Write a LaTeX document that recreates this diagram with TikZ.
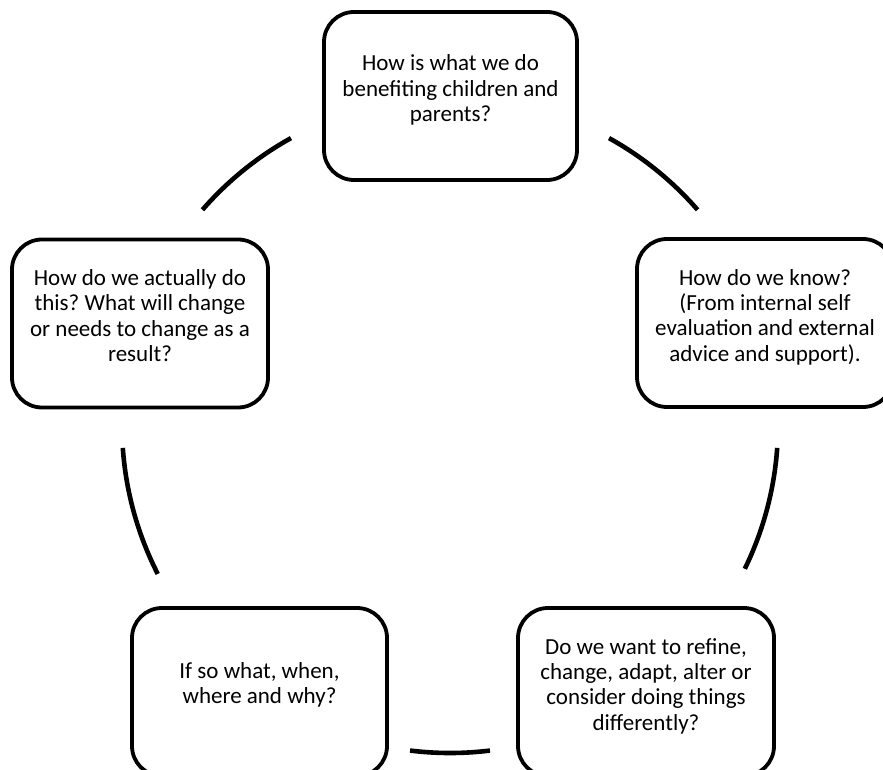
\documentclass[tikz,border=0pt]{standalone}
\usepackage{fontspec}
\setmainfont{Carlito}
\usetikzlibrary{calc}
\frenchspacing
\begin{document}
\begin{tikzpicture}[x=1pt,y=1pt,
  box/.style={draw=black,line width=3.8pt,rounded corners=30pt,fill=white,
    minimum width=#1,minimum height=168pt,inner sep=0pt},
  box/.default=256pt,
  txt/.style={align=center,font=\fontsize{23}{25.3}\selectfont,inner sep=0pt},
  ring/.style={line width=4.6pt,line cap=butt}]
\useasboundingbox (0,0) rectangle (883,769);
\begin{scope}
\clip (0,0) rectangle (883,769);
\coordinate (c) at (450,344);
% boxes
\node[box=253pt] (top) at (450.5,673) {};
\node[box] (right) at (765,446) {};
\node[box] (brt) at (646,77) {};
\node[box=255pt] (blf) at (259.5,77) {};
\node[box] (left) at (140,445.5) {};
% texts
\node[txt] (ttop) at ([yshift=6pt]top.center) {How is what we do\\benefiting children and\\parents?};
\node[txt] (tright) at ([yshift=6pt]right.center) {How do we know?\\(From internal self\\evaluation and external\\advice and support).};
\node[txt] (tbrt) at ([yshift=6pt]brt.center) {Do we want to refine,\\change, adapt, alter or\\consider doing things\\differently?};
\node[txt] (tblf) at ([yshift=7pt]blf.center) {If so what, when,\\where and why?};
\node[txt] (tleft) at ([yshift=8pt]left.center) {How do we actually do\\this? What will change\\or needs to change as a\\result?};
% connecting arcs
\draw[ring] ($(c)+(61:328)$) arc[start angle=61,end angle=41,radius=328];
\draw[ring] ($(c)+(-4:328)$) arc[start angle=-4,end angle=-26,radius=328];
\draw[ring] ($(c)+(-83:328)$) arc[start angle=-83,end angle=-97,radius=328];
\draw[ring] ($(c)+(207:328)$) arc[start angle=207,end angle=184,radius=328];
\draw[ring] ($(c)+(139:328)$) arc[start angle=139,end angle=119,radius=328];
\end{scope}
\end{tikzpicture}
\end{document}
